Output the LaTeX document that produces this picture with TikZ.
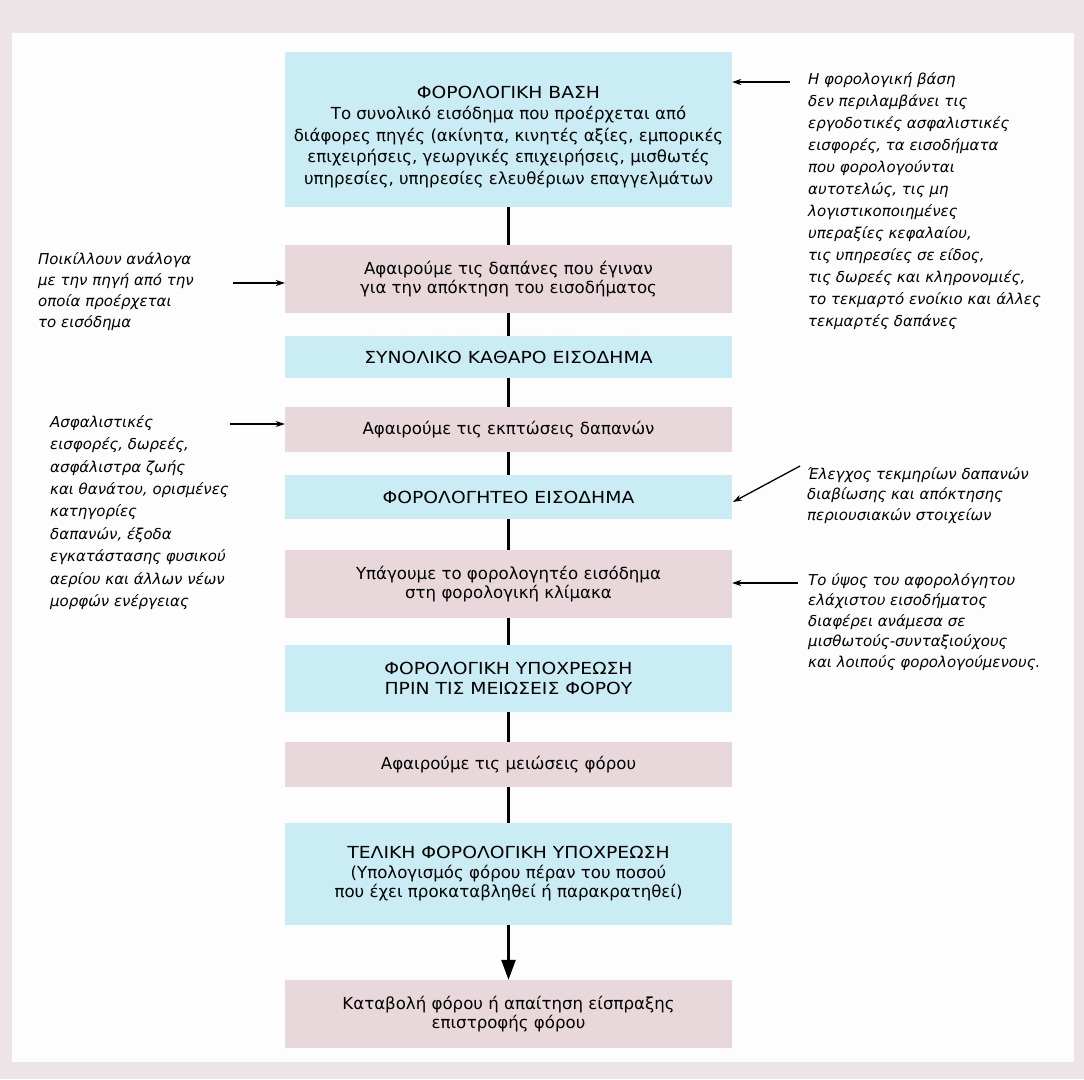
\documentclass[tikz,border=0pt]{standalone}
\usepackage{fontspec}
\setmainfont{DejaVu Sans}
\newfontfamily\widecaps[FakeStretch=1.13]{DejaVu Sans}
\usetikzlibrary{arrows.meta}
\definecolor{pagebg}{RGB}{236,228,231}
\definecolor{panelbg}{RGB}{253,253,253}
\definecolor{boxblue}{RGB}{201,236,245}
\definecolor{boxpink}{RGB}{232,216,219}
\begin{document}
\begin{tikzpicture}[x=1pt,y=-1pt,
  box/.style={minimum width=447pt, inner sep=0pt, align=center,
    font=\fontsize{16.6}{19.5}\selectfont},
  bluebox/.style={box, fill=boxblue},
  pinkbox/.style={box, fill=boxpink},
  conn/.style={line width=2.5pt},
  finalconn/.style={line width=2.5pt, -{Triangle[length=20pt,width=14pt]}},
  note/.style={align=left, inner sep=0pt, anchor=north west},
  notearrow/.style={line width=1.3pt, -{Stealth[length=9pt,width=6pt]}}
]
\fill[pagebg] (0,0) rectangle (1084,1079);
\fill[panelbg] (12,33) rectangle (1074,1062);
\fill[boxblue] (285,52) rectangle (732,207);

\node[bluebox, minimum height=140pt, font=\fontsize{16.6}{21.5}\selectfont] (b1) at (508.5,137)
  {{\widecaps ΦΟΡΟΛΟΓΙΚΗ ΒΑΣΗ}\\ Το συνολικό εισόδημα που προέρχεται από\\ διάφορες πηγές (ακίνητα, κινητές αξίες, εμπορικές\\ επιχειρήσεις, γεωργικές επιχειρήσεις, μισθωτές\\ υπηρεσίες, υπηρεσίες ελευθέριων επαγγελμάτων};
\node[pinkbox, minimum height=68pt] (b2) at (508.5,279)
  {Αφαιρούμε τις δαπάνες που έγιναν\\ για την απόκτηση του εισοδήματος};
\node[bluebox, minimum height=42pt] (b3) at (508.5,357)
  {\widecaps ΣΥΝΟΛΙΚΟ ΚΑΘΑΡΟ ΕΙΣΟΔΗΜΑ};
\node[pinkbox, minimum height=45pt] (b4) at (508.5,429.5)
  {Αφαιρούμε τις εκπτώσεις δαπανών};
\node[bluebox, minimum height=44pt] (b5) at (508.5,497)
  {\widecaps ΦΟΡΟΛΟΓΗΤΕΟ ΕΙΣΟΔΗΜΑ};
\node[pinkbox, minimum height=68pt] (b6) at (508.5,584)
  {Υπάγουμε το φορολογητέο εισόδημα\\ στη φορολογική κλίμακα};
\node[bluebox, minimum height=67pt] (b7) at (508.5,678.5)
  {{\widecaps ΦΟΡΟΛΟΓΙΚΗ ΥΠΟΧΡΕΩΣΗ}\\ {\widecaps ΠΡΙΝ ΤΙΣ ΜΕΙΩΣΕΙΣ ΦΟΡΟΥ}};
\node[pinkbox, minimum height=45pt] (b8) at (508.5,764.5)
  {Αφαιρούμε τις μειώσεις φόρου};
\node[bluebox, minimum height=102pt] (b9) at (508.5,874)
  {{\widecaps ΤΕΛΙΚΗ ΦΟΡΟΛΟΓΙΚΗ ΥΠΟΧΡΕΩΣΗ}\\ (Υπολογισμός φόρου πέραν του ποσού\\ που έχει προκαταβληθεί ή παρακρατηθεί)};
\node[pinkbox, minimum height=68pt] (b10) at (508.5,1014)
  {Καταβολή φόρου ή απαίτηση είσπραξης\\ επιστροφής φόρου};

\draw[conn] (b1) -- (b2);
\draw[conn] (b2) -- (b3);
\draw[conn] (b3) -- (b4);
\draw[conn] (b4) -- (b5);
\draw[conn] (b5) -- (b6);
\draw[conn] (b6) -- (b7);
\draw[conn] (b7) -- (b8);
\draw[conn] (b8) -- (b9);
\draw[finalconn] (b9) -- (b10);

\node[note, font=\fontsize{15}{22}\selectfont\itshape] (r1) at (808,72)
  {Η φορολογική βάση\\ δεν περιλαμβάνει τις\\ εργοδοτικές ασφαλιστικές\\ εισφορές, τα εισοδήματα\\ που φορολογούνται\\ αυτοτελώς, τις μη\\ λογιστικοποιημένες\\ υπεραξίες κεφαλαίου,\\ τις υπηρεσίες σε είδος,\\ τις δωρεές και κληρονομιές,\\ το τεκμαρτό ενοίκιο και άλλες\\ τεκμαρτές δαπάνες};
\node[note, font=\fontsize{15}{21}\selectfont\itshape] (l1) at (38,252)
  {Ποικίλλουν ανάλογα\\ με την πηγή από την\\ οποία προέρχεται\\ το εισόδημα};
\node[note, font=\fontsize{15}{22.4}\selectfont\itshape] (l2) at (50,415)
  {Ασφαλιστικές\\ εισφορές, δωρεές,\\ ασφάλιστρα ζωής\\ και θανάτου, ορισμένες\\ κατηγορίες\\ δαπανών, έξοδα\\ εγκατάστασης φυσικού\\ αερίου και άλλων νέων\\ μορφών ενέργειας};
\node[note, font=\fontsize{15}{20.5}\selectfont\itshape] (r2) at (807,467)
  {Έλεγχος τεκμηρίων δαπανών\\ διαβίωσης και απόκτησης\\ περιουσιακών στοιχείων};
\node[note, font=\fontsize{15}{20.5}\selectfont\itshape] (r3) at (808,573)
  {Το ύψος του αφορολόγητου\\ ελάχιστου εισοδήματος\\ διαφέρει ανάμεσα σε\\ μισθωτούς-συνταξιούχους\\ και λοιπούς φορολογούμενους.};

\coordinate (a1) at (790,82);
\coordinate (a2) at (233,283);
\coordinate (a3) at (230,424);
\coordinate (a4) at (800,466);
\coordinate (a5) at (798,583);
\coordinate (t4) at (733,502);
\draw[notearrow] (a1) -- (b1.east |- a1);
\draw[notearrow] (a2) -- (b2.west |- a2);
\draw[notearrow] (a3) -- (b4.west |- a3);
\draw[notearrow] (a4) -- (t4);
\draw[notearrow] (a5) -- (b6.east |- a5);
\end{tikzpicture}
\end{document}
